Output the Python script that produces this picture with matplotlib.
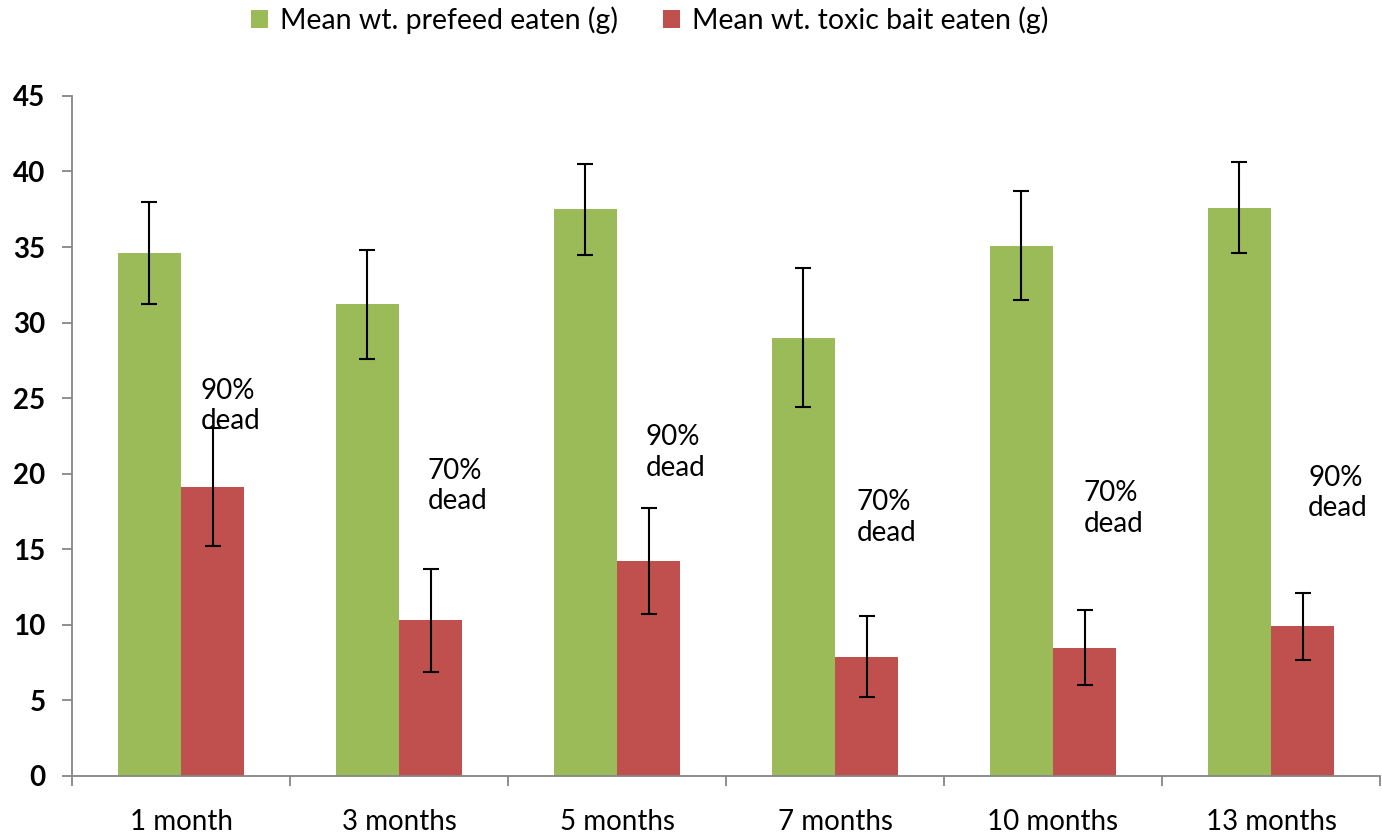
import matplotlib
matplotlib.use('Agg')
import matplotlib.pyplot as plt
import numpy as np

matplotlib.rcParams['font.family'] = ['Lato', 'DejaVu Sans']

# 데이터
categories = ['1 month', '3 months', '5 months', '7 months', '10 months', '13 months']
prefeed = [34.6, 31.2, 37.5, 29.0, 35.1, 37.6]
prefeed_err = [3.4, 3.6, 3.0, 4.6, 3.6, 3.0]
toxic = [19.1, 10.3, 14.2, 7.9, 8.5, 9.9]
toxic_err = [3.9, 3.4, 3.5, 2.7, 2.5, 2.2]
dead_labels = ['90%\ndead', '70%\ndead', '90%\ndead', '70%\ndead', '70%\ndead', '90%\ndead']
label_x = [0.09, 1.13, 2.13, 3.10, 4.14, 5.17]
label_y = [24.5, 19.2, 21.4, 17.1, 17.7, 18.7]

green = '#9BBB59'
red = '#C0504D'
axis_col = '#868686'

fig = plt.figure(figsize=(13.82, 8.35), dpi=100)
ax = fig.add_axes([0.0521, 0.0707, 0.9465, 0.8144])

x = np.arange(len(categories))
w = 0.29
err_kw = dict(ecolor='black', elinewidth=1.5, capsize=6, capthick=1.5)
ax.bar(x - w / 2, prefeed, w, color=green, yerr=prefeed_err, error_kw=err_kw,
       label='Mean wt. prefeed eaten (g)')
ax.bar(x + w / 2, toxic, w, color=red, yerr=toxic_err, error_kw=err_kw,
       label='Mean wt. toxic bait eaten (g)')

for lx, ly, txt in zip(label_x, label_y, dead_labels):
    ax.text(lx, ly, txt, fontsize=20, ha='left', va='center', linespacing=1.2)

ax.set_xlim(-0.5, len(categories) - 0.5)
ax.set_ylim(0, 45)
ax.set_yticks(np.arange(0, 46, 5))
ax.set_yticklabels([str(v) for v in range(0, 46, 5)], fontsize=20, fontweight='bold')

# 범주 경계에 눈금
ax.set_xticks(np.arange(-0.5, len(categories), 1.0))
ax.set_xticklabels([])
ax.set_xticks(x, minor=True)
ax.set_xticklabels(categories, minor=True, fontsize=20)
ax.tick_params(axis='x', which='minor', length=0, pad=24)
ax.tick_params(axis='x', which='major', length=7, direction='out', color=axis_col, width=1.3)
ax.tick_params(axis='y', length=7, direction='out', color=axis_col, width=1.3, pad=12)

for s in ['top', 'right']:
    ax.spines[s].set_visible(False)
for s in ['left', 'bottom']:
    ax.spines[s].set_color(axis_col)
    ax.spines[s].set_linewidth(1.3)

fig.legend(loc='center', bbox_to_anchor=(0.470, 0.976), ncol=2, frameon=False,
           fontsize=20.5, handlelength=0.6, handleheight=0.6, columnspacing=1.6,
           handletextpad=0.4)

fig.savefig('out.png', dpi=100)
